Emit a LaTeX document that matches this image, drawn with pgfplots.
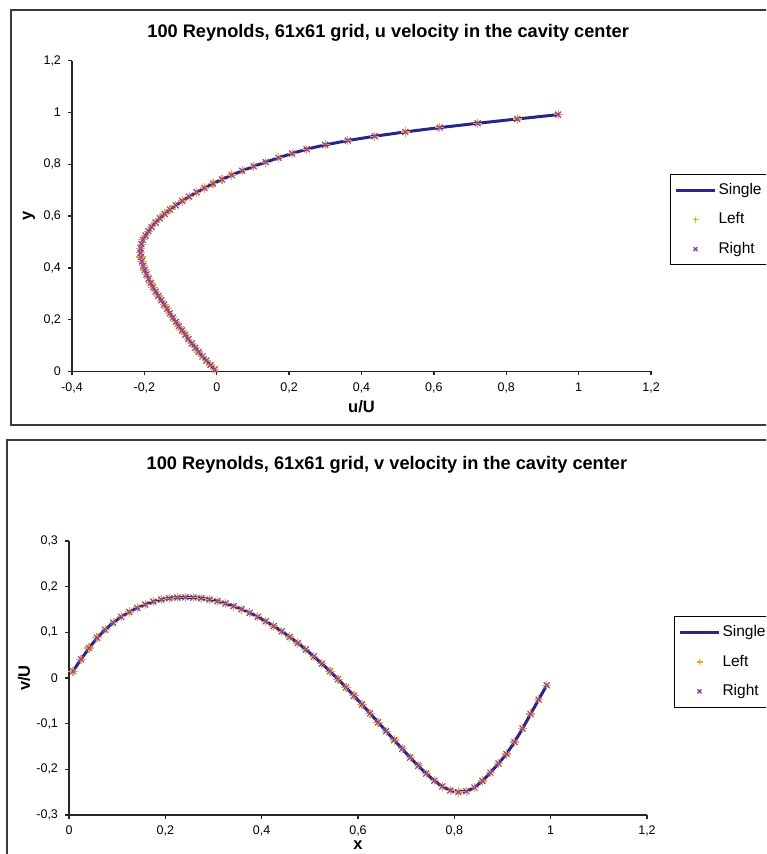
\documentclass[border=0pt]{standalone}
\usepackage{fontspec}
\setmainfont{Liberation Sans}
\usepackage{pgfplots}
\usepackage{pgfplotstable}
\pgfplotsset{compat=1.18}

\definecolor{single}{HTML}{26268C}
\definecolor{leftc}{HTML}{F5A31A}
\definecolor{rightc}{HTML}{8E44A0}
\definecolor{framec}{HTML}{3A3A3A}

% u velocity on the vertical centre line: u/U, y
\pgfplotstableread{
u y
-0.0058 0.00833
-0.0174 0.025
-0.0287 0.04167
-0.0394 0.05833
-0.0497 0.075
-0.0594 0.09167
-0.0690 0.10833
-0.0782 0.125
-0.0872 0.14167
-0.0960 0.15833
-0.1046 0.175
-0.1130 0.19167
-0.1213 0.20833
-0.1295 0.225
-0.1375 0.24167
-0.1455 0.25833
-0.1534 0.275
-0.1615 0.29167
-0.1690 0.30833
-0.1760 0.325
-0.1825 0.34167
-0.1885 0.35833
-0.1940 0.375
-0.1990 0.39167
-0.2032 0.40833
-0.2068 0.425
-0.2094 0.44167
-0.2108 0.45833
-0.2105 0.475
-0.2084 0.49167
-0.2040 0.50833
-0.1967 0.525
-0.1890 0.54167
-0.1798 0.55833
-0.1692 0.575
-0.1573 0.59167
-0.1440 0.60833
-0.1293 0.625
-0.1132 0.64167
-0.0955 0.65833
-0.0764 0.675
-0.0559 0.69167
-0.0339 0.70833
-0.0105 0.725
0.0144 0.74167
0.0414 0.75833
0.0705 0.775
0.1018 0.79167
0.1352 0.80833
0.1707 0.825
0.2084 0.84167
0.2487 0.85833
0.2996 0.875
0.3623 0.89167
0.4362 0.90833
0.5210 0.925
0.6161 0.94167
0.7208 0.95833
0.8304 0.975
0.9434 0.99167
}\udata

% v velocity on the horizontal centre line: x, v/U
\pgfplotstableread{
x v
0.00833 0.0150
0.025 0.0410
0.04167 0.0655
0.05833 0.0880
0.075 0.1057
0.09167 0.1213
0.10833 0.1340
0.125 0.1445
0.14167 0.1535
0.15833 0.1610
0.175 0.1672
0.19167 0.1717
0.20833 0.1746
0.225 0.1762
0.24167 0.1767
0.25833 0.1762
0.275 0.1745
0.29167 0.1718
0.30833 0.1680
0.325 0.1632
0.34167 0.1574
0.35833 0.1506
0.375 0.1428
0.39167 0.1340
0.40833 0.1243
0.425 0.1137
0.44167 0.1022
0.45833 0.0898
0.475 0.0766
0.49167 0.0626
0.50833 0.0471
0.525 0.0314
0.54167 0.0149
0.55833 -0.0026
0.575 -0.0206
0.59167 -0.0391
0.60833 -0.0581
0.625 -0.0774
0.64167 -0.0968
0.65833 -0.1164
0.675 -0.1359
0.69167 -0.1552
0.70833 -0.1743
0.725 -0.1924
0.74167 -0.2093
0.75833 -0.2249
0.775 -0.2375
0.79167 -0.2463
0.80833 -0.2498
0.825 -0.2480
0.84167 -0.2399
0.85833 -0.2255
0.875 -0.2071
0.89167 -0.1874
0.90833 -0.1664
0.925 -0.1401
0.94167 -0.1107
0.95833 -0.0788
0.975 -0.0474
0.99167 -0.0159
}\vdata

\pgfplotsset{
  excel/.style={
    scale only axis,
    axis lines=left,
    axis line style={-, line width=0.8pt, black!85},
    tick align=outside,
    major tick length=2pt,
    tick style={line width=0.7pt, black!85},
    tick label style={font=\fontsize{6.25}{7}\selectfont},
    /pgf/number format/use comma,
    /pgf/number format/fixed,
    /pgf/number format/precision=1,
    /pgf/number format/assume math mode=true,
    every axis title/.style={font=\bfseries\fontsize{9.1}{11}\selectfont, anchor=center},
    label style={font=\bfseries\fontsize{8.25}{10}\selectfont},
    legend style={draw=black, line width=0.5pt, fill=white, anchor=north west,
      inner xsep=2pt, inner ysep=0.5pt, font=\fontsize{7.75}{9}\selectfont,
      nodes={inner xsep=1pt, inner ysep=0pt, text height=9.5pt, text depth=5.25pt},
      cells={anchor=west}},
  },
  singleline/.style={color=single, line width=1.5pt, no marks,
    legend image code/.code={\draw[##1] (0pt,0pt) -- (19.5pt,0pt);}},
  leftmarks/.style={only marks, mark=+, color=leftc, mark size=2.3pt,
    mark options={line width=0.6pt},
    legend image code/.code={\draw[##1, mark size=1.5pt, mark options={line width=0.7pt}] plot coordinates {(9.75pt,0pt)};}},
  rightmarks/.style={only marks, mark=x, color=rightc, mark size=2.1pt,
    mark options={line width=0.6pt},
    legend image code/.code={\draw[##1, mark size=1.4pt, mark options={line width=0.7pt}] plot coordinates {(9.75pt,0pt)};}},
}

\begin{document}
\begin{tikzpicture}
\useasboundingbox (0,0) rectangle (383pt,427pt);
\clip (0,0) rectangle (383pt,427pt);
\fill[white] (0,0) rectangle (383pt,427pt);

% chart frames
\draw[framec, line width=0.75pt] (5.5pt,422pt) rectangle (395pt,214.5pt);
\draw[framec, line width=0.75pt] (3.5pt,207pt) rectangle (395pt,-10pt);

\begin{axis}[excel,
  at={(36pt,241.25pt)}, anchor=south west,
  width=289.5pt, height=155.4pt,
  xmin=-0.4, xmax=1.2, ymin=0, ymax=1.2,
  xtick={-0.4,-0.2,0,0.2,0.4,0.6,0.8,1,1.2},
  ytick={0,0.2,0.4,0.6,0.8,1,1.2},
  title={100 Reynolds, 61x61 grid, u velocity in the cavity center},
  title style={at={(axis description cs:0.546,1.088)}},
  xlabel={u/U},
  xlabel style={at={(axis description cs:0.5,-0.114)}, anchor=center},
  ylabel={y},
  ylabel style={at={(axis description cs:-0.0743,0.5)}, anchor=center},
  legend style={at={(axis description cs:1.0328,0.6355)}},
]
\addplot[singleline] table[x=u, y=y] {\udata};
\addlegendentry{Single}
\addplot[leftmarks] table[x=u, y=y] {\udata};
\addlegendentry{Left}
\addplot[rightmarks] table[x=u, y=y] {\udata};
\addlegendentry{Right}
\end{axis}

\begin{axis}[excel,
  at={(34.5pt,19.5pt)}, anchor=south west,
  width=289pt, height=137pt,
  xmin=0, xmax=1.2, ymin=-0.3, ymax=0.3,
  xtick={0,0.2,0.4,0.6,0.8,1,1.2},
  ytick={-0.3,-0.2,-0.1,0,0.1,0.2,0.3},
  title={100 Reynolds, 61x61 grid, v velocity in the cavity center},
  title style={at={(axis description cs:0.55,1.277)}},
  xlabel={x},
  xlabel style={at={(axis description cs:0.5,-0.1095)}, anchor=center},
  ylabel={v/U},
  ylabel style={at={(axis description cs:-0.0779,0.5)}, anchor=center},
  legend style={at={(axis description cs:1.0467,0.726)}},
]
\addplot[singleline] table[x=x, y=v] {\vdata};
\addlegendentry{Single}
\addplot[leftmarks] table[x=x, y=v] {\vdata};
\addlegendentry{Left}
\addplot[rightmarks] table[x=x, y=v] {\vdata};
\addlegendentry{Right}
\end{axis}
\end{tikzpicture}
\end{document}
